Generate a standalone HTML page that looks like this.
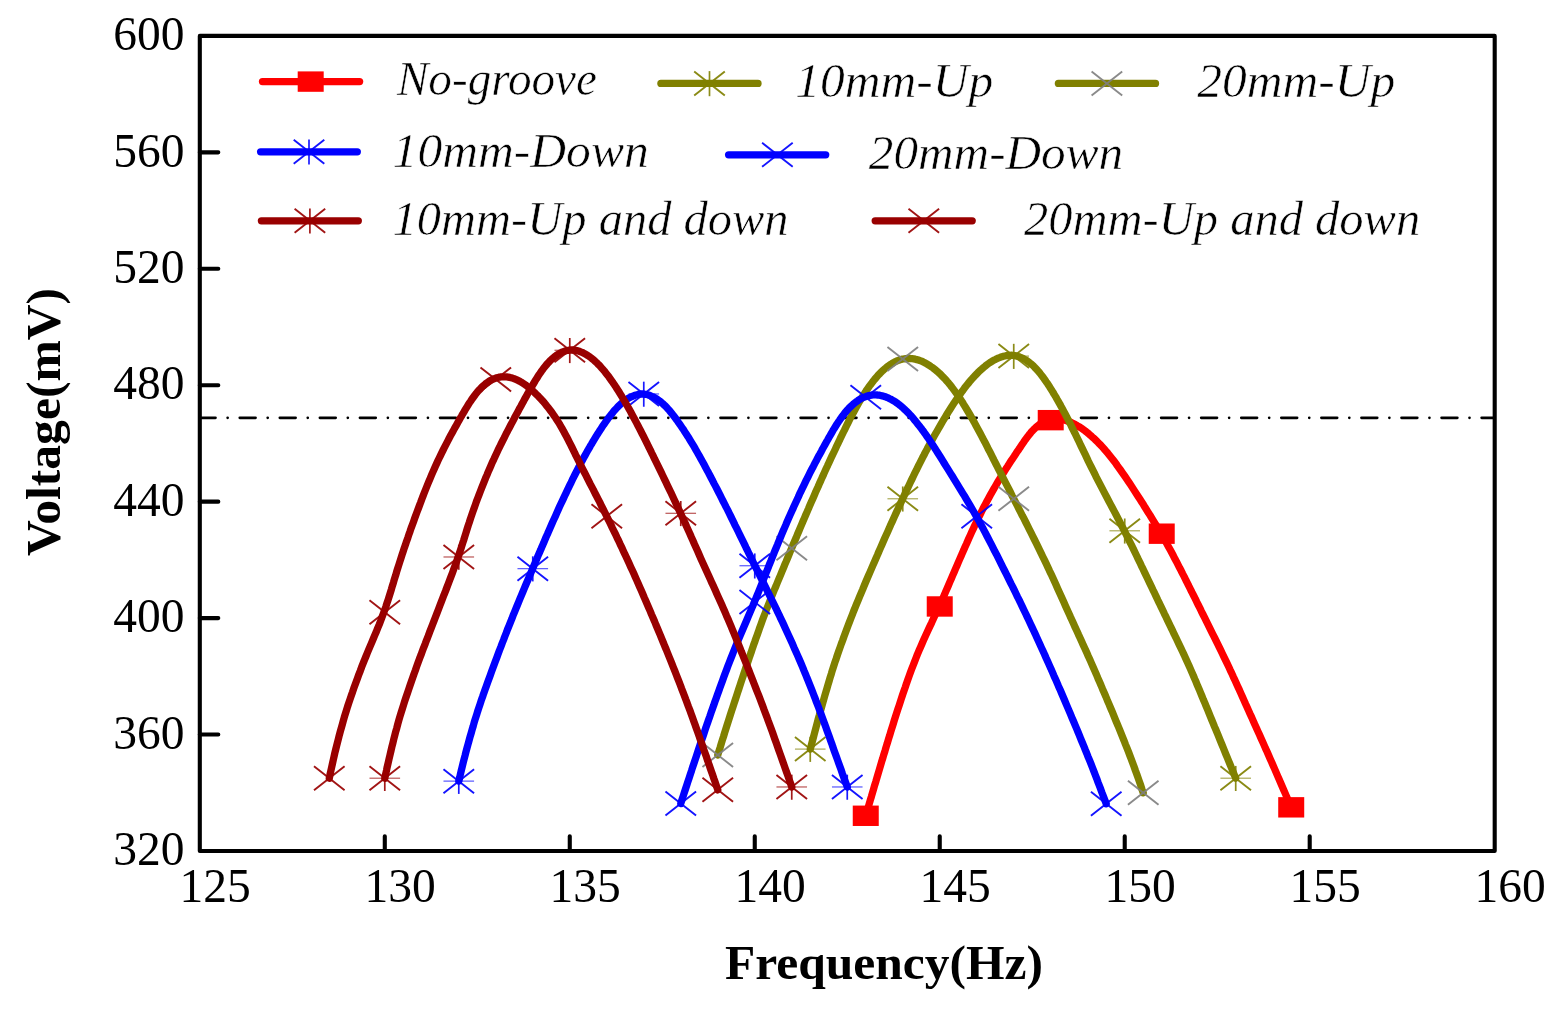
<!DOCTYPE html>
<html lang="en"><head><meta charset="utf-8"><title>Voltage vs Frequency</title>
<style>html,body{margin:0;padding:0;background:#fff}body{width:1561px;height:1010px;overflow:hidden}svg{display:block}text{font-family:"Liberation Serif",serif;fill:#000}.tk{font-size:47.5px}.lg{font-size:48px;font-style:italic;stroke:#fff;stroke-width:0.55px;paint-order:fill stroke}.ti{font-size:48px;font-weight:bold}</style></head><body>
<svg width="1561" height="1010" viewBox="0 0 1561 1010">
<rect width="1561" height="1010" fill="#fff"/>
<path d="M199.70 417.8H1494.70" stroke="#000" stroke-width="2.7" stroke-linecap="round" stroke-dasharray="15.8 12.13 0.01 12.12" fill="none"/>
<g>
<path d="M865.7 815.8L866.9 811.9L868.0 808.1L869.1 804.3L870.2 800.4L871.4 796.6L872.5 792.8L873.6 788.9L874.7 785.1L875.9 781.3L877.0 777.5L878.1 773.7L879.3 769.8L880.4 766.0L881.5 762.2L882.7 758.4L883.8 754.6L885.0 750.8L886.1 747.0L887.3 743.2L888.4 739.4L889.6 735.7L890.7 731.9L891.9 728.1L893.1 724.3L894.2 720.6L895.4 716.8L896.6 713.1L897.8 709.4L899.1 705.6L900.3 701.9L901.5 698.2L902.7 694.5L904.0 690.8L905.3 687.1L906.5 683.4L907.8 679.8L909.1 676.1L910.4 672.5L911.8 668.8L913.2 665.2L914.6 661.6L916.0 658.0L917.4 654.4L918.9 650.8L920.5 647.2L922.0 643.7L923.6 640.1L925.2 636.6L926.8 633.1L928.4 629.5L930.0 626.1L931.7 622.6L933.3 619.1L934.9 615.6L936.5 612.2L938.1 608.8L939.7 605.4L941.2 602.0L942.7 598.6L944.2 595.2L945.6 591.9L947.1 588.5L948.5 585.2L949.9 581.9L951.3 578.7L952.7 575.4L954.1 572.2L955.5 568.9L956.9 565.7L958.2 562.6L959.6 559.4L961.0 556.3L962.3 553.2L963.7 550.1L965.0 547.0L966.4 544.0L967.7 541.0L969.0 538.0L970.4 535.0L971.7 532.1L973.1 529.1L974.4 526.2L975.8 523.4L977.1 520.6L978.5 517.7L979.9 515.0L981.3 512.2L982.6 509.5L984.0 506.8L985.4 504.2L986.8 501.5L988.2 498.9L989.6 496.4L991.0 493.8L992.4 491.4L993.8 488.9L995.2 486.5L996.6 484.1L998.0 481.7L999.4 479.4L1000.8 477.1L1002.2 474.8L1003.6 472.6L1004.9 470.4L1006.3 468.3L1007.7 466.2L1009.0 464.1L1010.3 462.1L1011.6 460.1L1012.9 458.2L1014.2 456.3L1015.4 454.4L1016.6 452.6L1017.8 450.8L1019.0 449.1L1020.1 447.4L1021.2 445.7L1022.3 444.1L1023.4 442.6L1024.4 441.0L1025.5 439.6L1026.5 438.2L1027.5 436.8L1028.6 435.4L1029.6 434.2L1030.6 432.9L1031.6 431.7L1032.7 430.6L1033.7 429.5L1034.8 428.5L1035.8 427.5L1036.9 426.5L1038.0 425.6L1039.1 424.8L1040.2 424.0L1041.3 423.3L1042.5 422.6L1043.6 422.0L1044.8 421.4L1046.0 420.9L1047.2 420.4L1048.4 420.0L1049.7 419.7L1050.9 419.4L1052.2 419.2L1053.4 419.0L1054.7 418.8L1056.0 418.8L1057.3 418.7L1056.5 418.8L1058.1 418.9L1059.6 419.1L1061.2 419.3L1062.8 419.6L1064.3 420.0L1065.9 420.5L1067.5 421.0L1069.1 421.6L1070.7 422.2L1072.2 423.0L1073.8 423.8L1075.4 424.6L1077.0 425.5L1078.6 426.5L1080.3 427.5L1081.9 428.6L1083.5 429.7L1085.1 430.9L1086.7 432.2L1088.4 433.5L1090.0 434.9L1091.6 436.3L1093.2 437.8L1094.9 439.3L1096.5 440.9L1098.1 442.5L1099.7 444.2L1101.4 445.9L1103.0 447.7L1104.6 449.5L1106.2 451.3L1107.8 453.2L1109.4 455.2L1111.0 457.2L1112.6 459.2L1114.2 461.3L1115.8 463.4L1117.3 465.6L1118.9 467.8L1120.5 470.0L1122.1 472.3L1123.7 474.6L1125.3 476.9L1126.9 479.3L1128.5 481.7L1130.2 484.1L1131.8 486.6L1133.4 489.1L1135.0 491.6L1136.7 494.2L1138.3 496.7L1140.0 499.3L1141.7 502.0L1143.4 504.6L1145.0 507.3L1146.7 510.0L1148.4 512.8L1150.2 515.5L1151.9 518.3L1153.6 521.1L1155.3 523.9L1157.0 526.7L1158.7 529.5L1160.4 532.4L1162.1 535.3L1163.7 538.2L1165.4 541.1L1167.0 544.0L1168.6 546.9L1170.2 549.8L1171.8 552.8L1173.4 555.8L1174.9 558.8L1176.5 561.7L1178.1 564.8L1179.6 567.8L1181.2 570.8L1182.7 573.9L1184.3 576.9L1185.8 580.0L1187.4 583.1L1188.9 586.2L1190.5 589.3L1192.0 592.4L1193.6 595.5L1195.2 598.6L1196.7 601.8L1198.3 605.0L1199.9 608.1L1201.4 611.3L1203.0 614.5L1204.6 617.7L1206.2 620.9L1207.8 624.1L1209.4 627.4L1211.0 630.6L1212.6 633.8L1214.3 637.1L1215.9 640.4L1217.5 643.6L1219.1 646.9L1220.7 650.2L1222.3 653.5L1223.9 656.8L1225.5 660.1L1227.1 663.4L1228.7 666.8L1230.2 670.1L1231.8 673.4L1233.3 676.8L1234.9 680.1L1236.4 683.5L1237.9 686.9L1239.5 690.2L1241.0 693.6L1242.5 697.0L1244.0 700.4L1245.5 703.8L1247.1 707.2L1248.6 710.6L1250.1 714.0L1251.7 717.4L1253.2 720.9L1254.7 724.3L1256.3 727.7L1257.8 731.1L1259.4 734.6L1260.9 738.0L1262.5 741.5L1264.0 744.9L1265.5 748.4L1267.1 751.8L1268.6 755.3L1270.1 758.7L1271.7 762.2L1273.2 765.7L1274.7 769.1L1276.2 772.6L1277.7 776.1L1279.2 779.5L1280.7 783.0L1282.2 786.5L1283.7 790.0L1285.2 793.4L1286.7 796.9L1288.2 800.4L1289.7 803.9L1291.2 807.3" stroke="#ff0000" fill="none" stroke-linecap="round" stroke-linejoin="round" stroke-width="7.3"/>
<rect x="852.75" y="805.58" width="26.00" height="20.40" fill="#ff0000"/>
<rect x="926.74" y="596.27" width="26.00" height="20.40" fill="#ff0000"/>
<rect x="1037.73" y="409.96" width="26.00" height="20.40" fill="#ff0000"/>
<rect x="1148.73" y="523.49" width="26.00" height="20.40" fill="#ff0000"/>
<rect x="1278.22" y="797.13" width="26.00" height="20.40" fill="#ff0000"/>
</g>
<g>
<path d="M810.3 749.1L811.3 745.3L812.3 741.5L813.3 737.7L814.3 733.9L815.3 730.1L816.3 726.4L817.3 722.6L818.3 718.8L819.4 715.0L820.4 711.2L821.5 707.4L822.5 703.7L823.6 699.9L824.7 696.1L825.8 692.3L826.9 688.6L828.0 684.8L829.1 681.1L830.2 677.3L831.4 673.6L832.5 669.8L833.7 666.1L834.9 662.4L836.2 658.7L837.4 655.0L838.7 651.3L840.0 647.6L841.3 643.9L842.7 640.2L844.0 636.5L845.4 632.8L846.7 629.2L848.1 625.5L849.5 621.9L850.9 618.3L852.3 614.7L853.7 611.0L855.2 607.4L856.6 603.9L858.1 600.3L859.6 596.7L861.1 593.1L862.6 589.6L864.0 586.1L865.5 582.5L867.0 579.0L868.5 575.5L870.0 572.1L871.5 568.6L873.0 565.1L874.5 561.7L876.0 558.3L877.5 554.9L878.9 551.5L880.4 548.1L881.9 544.7L883.4 541.3L884.8 538.0L886.3 534.7L887.8 531.4L889.3 528.1L890.7 524.8L892.2 521.6L893.7 518.3L895.1 515.1L896.6 511.9L898.1 508.7L899.5 505.6L901.0 502.4L902.4 499.3L903.9 496.2L905.3 493.1L906.7 490.0L908.2 487.0L909.6 484.0L911.0 481.0L912.5 478.0L913.9 475.0L915.3 472.1L916.8 469.2L918.2 466.3L919.7 463.4L921.1 460.6L922.5 457.8L924.0 455.0L925.4 452.2L926.9 449.5L928.3 446.8L929.8 444.1L931.2 441.5L932.6 438.9L934.1 436.3L935.5 433.8L937.0 431.2L938.4 428.7L939.8 426.3L941.2 423.9L942.6 421.5L944.0 419.1L945.4 416.8L946.8 414.5L948.2 412.2L949.6 410.0L951.0 407.8L952.3 405.7L953.7 403.6L955.1 401.5L956.4 399.5L957.8 397.5L959.1 395.5L960.5 393.6L961.8 391.7L963.2 389.9L964.5 388.1L965.9 386.3L967.2 384.6L968.6 383.0L969.9 381.3L971.3 379.8L972.6 378.2L974.0 376.7L975.3 375.3L976.7 373.9L978.0 372.5L979.4 371.2L980.7 370.0L982.1 368.8L983.4 367.6L984.8 366.5L986.1 365.4L987.4 364.4L988.8 363.4L990.1 362.5L991.5 361.7L992.8 360.8L994.1 360.1L995.5 359.4L996.8 358.7L998.1 358.1L999.5 357.6L1000.8 357.1L1002.1 356.7L1003.4 356.3L1004.8 356.0L1006.1 355.7L1007.4 355.5L1008.7 355.4L1010.1 355.3L1011.4 355.2L1011.4 355.3L1012.9 355.4L1014.5 355.6L1016.0 355.9L1017.5 356.3L1018.9 356.7L1020.4 357.3L1021.9 357.9L1023.3 358.6L1024.7 359.4L1026.2 360.2L1027.6 361.2L1029.0 362.2L1030.3 363.3L1031.7 364.4L1033.1 365.7L1034.4 367.0L1035.7 368.4L1037.1 369.8L1038.4 371.3L1039.7 372.9L1041.0 374.6L1042.3 376.3L1043.6 378.0L1044.9 379.9L1046.2 381.8L1047.6 383.7L1048.9 385.7L1050.2 387.8L1051.5 389.9L1052.9 392.1L1054.2 394.4L1055.6 396.6L1056.9 399.0L1058.3 401.4L1059.7 403.8L1061.0 406.3L1062.4 408.8L1063.8 411.4L1065.2 414.0L1066.6 416.7L1068.0 419.4L1069.4 422.2L1070.8 424.9L1072.2 427.8L1073.6 430.6L1075.1 433.5L1076.5 436.5L1077.9 439.4L1079.4 442.4L1080.8 445.5L1082.3 448.5L1083.8 451.6L1085.3 454.7L1086.8 457.9L1088.3 461.1L1089.9 464.3L1091.5 467.5L1093.1 470.7L1094.8 474.0L1096.4 477.3L1098.1 480.6L1099.8 483.9L1101.5 487.2L1103.3 490.6L1105.0 493.9L1106.8 497.3L1108.6 500.7L1110.4 504.1L1112.2 507.5L1114.0 510.9L1115.8 514.3L1117.6 517.7L1119.4 521.2L1121.1 524.6L1122.9 528.0L1124.7 531.5L1126.4 534.9L1128.1 538.3L1129.8 541.8L1131.5 545.2L1133.2 548.6L1134.8 552.0L1136.5 555.5L1138.1 558.9L1139.8 562.3L1141.4 565.8L1143.1 569.2L1144.7 572.6L1146.4 576.1L1148.0 579.5L1149.6 582.9L1151.3 586.4L1152.9 589.8L1154.6 593.2L1156.2 596.6L1157.8 600.1L1159.5 603.5L1161.1 606.9L1162.8 610.4L1164.4 613.8L1166.1 617.2L1167.7 620.6L1169.4 624.1L1171.0 627.5L1172.7 630.9L1174.3 634.4L1176.0 637.8L1177.6 641.2L1179.2 644.6L1180.9 648.1L1182.5 651.5L1184.1 654.9L1185.6 658.3L1187.2 661.8L1188.8 665.2L1190.3 668.6L1191.8 672.1L1193.3 675.5L1194.7 678.9L1196.2 682.3L1197.6 685.8L1199.1 689.2L1200.5 692.6L1201.9 696.0L1203.3 699.5L1204.8 702.9L1206.2 706.3L1207.6 709.7L1209.0 713.2L1210.4 716.6L1211.8 720.0L1213.2 723.4L1214.6 726.9L1216.1 730.3L1217.5 733.7L1218.9 737.1L1220.3 740.6L1221.7 744.0L1223.1 747.4L1224.5 750.8L1225.9 754.3L1227.3 757.7L1228.7 761.1L1230.1 764.5L1231.5 768.0L1232.9 771.4L1234.3 774.8L1235.7 778.2" stroke="#808000" fill="none" stroke-linecap="round" stroke-linejoin="round" stroke-width="7.3"/>
<path d="M794.95 737.11L825.55 761.11M794.95 761.11L825.55 737.11" stroke="#808000" stroke-width="1.9" stroke-opacity="0.92" fill="none"/><path d="M794.95 749.11H825.55" stroke="#808000" stroke-width="1.3" stroke-opacity="0.62" fill="none"/><path d="M810.25 736.81V761.91" stroke="#808000" stroke-width="1.7" stroke-opacity="0.9" fill="none"/>
<path d="M887.45 486.76L918.05 510.76M887.45 510.76L918.05 486.76" stroke="#808000" stroke-width="1.9" stroke-opacity="0.92" fill="none"/><path d="M887.45 498.76H918.05" stroke="#808000" stroke-width="1.3" stroke-opacity="0.62" fill="none"/><path d="M902.75 486.46V511.56" stroke="#808000" stroke-width="1.7" stroke-opacity="0.9" fill="none"/>
<path d="M998.44 344.12L1029.04 368.12M998.44 368.12L1029.04 344.12" stroke="#808000" stroke-width="1.9" stroke-opacity="0.92" fill="none"/><path d="M998.44 356.12H1029.04" stroke="#808000" stroke-width="1.3" stroke-opacity="0.62" fill="none"/><path d="M1013.74 343.82V368.92" stroke="#808000" stroke-width="1.7" stroke-opacity="0.9" fill="none"/>
<path d="M1109.43 518.78L1140.03 542.78M1109.43 542.78L1140.03 518.78" stroke="#808000" stroke-width="1.9" stroke-opacity="0.92" fill="none"/><path d="M1109.43 530.78H1140.03" stroke="#808000" stroke-width="1.3" stroke-opacity="0.62" fill="none"/><path d="M1124.73 518.48V543.58" stroke="#808000" stroke-width="1.7" stroke-opacity="0.9" fill="none"/>
<path d="M1220.42 766.22L1251.02 790.22M1220.42 790.22L1251.02 766.22" stroke="#808000" stroke-width="1.9" stroke-opacity="0.92" fill="none"/><path d="M1220.42 778.22H1251.02" stroke="#808000" stroke-width="1.3" stroke-opacity="0.62" fill="none"/><path d="M1235.72 765.92V791.02" stroke="#808000" stroke-width="1.7" stroke-opacity="0.9" fill="none"/>
</g>
<g>
<path d="M717.8 754.9L718.9 751.3L720.1 747.6L721.2 743.9L722.3 740.3L723.5 736.6L724.6 732.9L725.8 729.2L726.9 725.6L728.1 721.9L729.3 718.2L730.4 714.6L731.6 710.9L732.8 707.3L734.0 703.6L735.2 700.0L736.4 696.3L737.6 692.7L738.8 689.0L740.0 685.4L741.2 681.7L742.4 678.1L743.6 674.5L744.8 670.9L746.0 667.2L747.3 663.6L748.5 660.0L749.7 656.4L751.0 652.8L752.2 649.2L753.4 645.6L754.7 642.0L755.9 638.4L757.2 634.9L758.5 631.3L759.7 627.7L761.0 624.2L762.3 620.6L763.6 617.1L765.0 613.5L766.3 610.0L767.7 606.5L769.1 603.0L770.5 599.5L771.9 596.0L773.3 592.5L774.7 589.0L776.2 585.5L777.6 582.0L779.0 578.6L780.5 575.1L781.9 571.7L783.3 568.3L784.7 564.8L786.2 561.4L787.6 558.0L789.0 554.6L790.4 551.2L791.8 547.9L793.2 544.5L794.6 541.2L796.1 537.8L797.4 534.5L798.8 531.2L800.2 527.9L801.6 524.6L803.0 521.3L804.4 518.1L805.8 514.8L807.2 511.6L808.6 508.4L809.9 505.2L811.3 502.0L812.7 498.9L814.1 495.7L815.4 492.6L816.8 489.5L818.2 486.5L819.5 483.4L820.9 480.4L822.2 477.4L823.6 474.4L824.9 471.4L826.2 468.5L827.6 465.6L828.9 462.7L830.2 459.9L831.5 457.0L832.9 454.2L834.2 451.5L835.5 448.7L836.7 446.0L838.0 443.3L839.3 440.7L840.5 438.0L841.8 435.4L843.0 432.9L844.3 430.4L845.5 427.9L846.7 425.4L847.9 423.0L849.1 420.6L850.3 418.2L851.5 415.9L852.8 413.6L854.0 411.4L855.2 409.2L856.4 407.0L857.6 404.9L858.8 402.8L860.0 400.7L861.2 398.7L862.4 396.8L863.6 394.8L864.8 393.0L866.0 391.1L867.2 389.3L868.4 387.6L869.6 385.9L870.9 384.2L872.1 382.6L873.3 381.0L874.5 379.5L875.8 378.0L877.0 376.6L878.2 375.2L879.5 373.9L880.7 372.6L881.9 371.4L883.2 370.2L884.4 369.1L885.7 368.1L886.9 367.0L888.2 366.1L889.4 365.2L890.7 364.3L892.0 363.5L893.2 362.8L894.5 362.1L895.7 361.5L897.0 360.9L898.3 360.4L899.5 360.0L900.8 359.6L902.1 359.2L903.4 359.0L904.6 358.8L905.9 358.6L907.2 358.5L908.5 358.5L910.5 358.5L912.1 358.7L913.7 358.9L915.2 359.2L916.8 359.6L918.4 360.0L920.0 360.6L921.6 361.2L923.2 361.9L924.8 362.7L926.4 363.6L928.0 364.6L929.6 365.6L931.2 366.7L932.9 367.8L934.5 369.1L936.1 370.4L937.7 371.8L939.3 373.2L940.8 374.7L942.4 376.3L944.0 377.9L945.6 379.6L947.1 381.4L948.7 383.2L950.2 385.1L951.8 387.1L953.3 389.1L954.8 391.1L956.3 393.2L957.8 395.4L959.4 397.6L960.9 399.9L962.4 402.2L963.8 404.6L965.3 407.0L966.8 409.5L968.3 412.0L969.8 414.5L971.3 417.1L972.8 419.8L974.3 422.4L975.8 425.2L977.3 427.9L978.8 430.7L980.3 433.5L981.8 436.4L983.3 439.3L984.9 442.2L986.4 445.2L987.9 448.2L989.5 451.2L991.0 454.2L992.6 457.3L994.1 460.4L995.7 463.5L997.3 466.7L998.9 469.8L1000.6 473.0L1002.2 476.2L1003.8 479.4L1005.5 482.7L1007.2 485.9L1008.9 489.2L1010.6 492.5L1012.2 495.8L1013.9 499.1L1015.6 502.4L1017.3 505.7L1019.0 509.1L1020.7 512.4L1022.4 515.8L1024.2 519.1L1025.9 522.5L1027.6 525.9L1029.3 529.3L1031.0 532.7L1032.7 536.1L1034.4 539.5L1036.1 542.9L1037.8 546.4L1039.5 549.8L1041.2 553.3L1042.8 556.7L1044.5 560.2L1046.2 563.7L1047.8 567.1L1049.4 570.6L1051.1 574.1L1052.7 577.6L1054.3 581.1L1055.9 584.6L1057.5 588.2L1059.1 591.7L1060.7 595.2L1062.3 598.8L1063.9 602.3L1065.5 605.9L1067.1 609.5L1068.7 613.0L1070.3 616.6L1072.0 620.2L1073.6 623.8L1075.2 627.4L1076.9 631.0L1078.5 634.6L1080.2 638.2L1081.8 641.8L1083.4 645.4L1085.1 649.0L1086.7 652.6L1088.3 656.3L1090.0 659.9L1091.6 663.6L1093.2 667.2L1094.8 670.9L1096.4 674.5L1097.9 678.2L1099.5 681.8L1101.1 685.5L1102.6 689.2L1104.2 692.8L1105.8 696.5L1107.3 700.2L1108.9 703.9L1110.4 707.5L1112.0 711.2L1113.5 714.9L1115.0 718.6L1116.5 722.3L1118.1 726.0L1119.6 729.7L1121.1 733.4L1122.6 737.1L1124.1 740.8L1125.5 744.5L1127.0 748.2L1128.5 751.9L1129.9 755.6L1131.3 759.3L1132.7 763.1L1134.1 766.8L1135.4 770.5L1136.8 774.2L1138.1 777.9L1139.4 781.6L1140.7 785.3L1141.9 789.1L1143.2 792.8" stroke="#808000" fill="none" stroke-linecap="round" stroke-linejoin="round" stroke-width="7.3"/>
<path d="M702.46 742.93L733.06 766.93M702.46 766.93L733.06 742.93" stroke="#808080" stroke-width="1.9" stroke-opacity="0.92" fill="none"/>
<path d="M776.45 536.25L807.05 560.25M776.45 560.25L807.05 536.25" stroke="#808080" stroke-width="1.9" stroke-opacity="0.92" fill="none"/>
<path d="M887.45 347.03L918.05 371.03M887.45 371.03L918.05 347.03" stroke="#808080" stroke-width="1.9" stroke-opacity="0.92" fill="none"/>
<path d="M998.44 486.76L1029.04 510.76M998.44 510.76L1029.04 486.76" stroke="#808080" stroke-width="1.9" stroke-opacity="0.92" fill="none"/>
<path d="M1127.93 780.78L1158.53 804.78M1127.93 804.78L1158.53 780.78" stroke="#808080" stroke-width="1.9" stroke-opacity="0.92" fill="none"/>
</g>
<g>
<path d="M458.8 781.1L459.7 777.5L460.5 773.8L461.4 770.1L462.3 766.4L463.2 762.7L464.1 759.1L465.1 755.4L466.0 751.7L467.0 748.1L468.0 744.4L469.0 740.7L470.0 737.1L471.1 733.4L472.1 729.8L473.2 726.1L474.2 722.4L475.3 718.8L476.5 715.2L477.6 711.5L478.8 707.9L480.0 704.3L481.2 700.6L482.5 697.0L483.7 693.4L485.0 689.8L486.3 686.2L487.6 682.6L488.9 679.0L490.2 675.4L491.5 671.8L492.8 668.3L494.1 664.7L495.4 661.2L496.8 657.6L498.1 654.1L499.4 650.5L500.8 647.0L502.1 643.5L503.5 640.0L504.8 636.5L506.2 633.0L507.5 629.5L508.9 626.1L510.3 622.6L511.7 619.2L513.0 615.7L514.4 612.3L515.8 608.9L517.2 605.5L518.6 602.1L520.0 598.7L521.4 595.3L522.8 592.0L524.2 588.6L525.6 585.3L527.0 582.0L528.4 578.7L529.8 575.4L531.2 572.1L532.6 568.8L533.9 565.6L535.3 562.4L536.7 559.1L538.0 555.9L539.4 552.7L540.8 549.6L542.1 546.4L543.5 543.3L544.8 540.1L546.1 537.0L547.5 534.0L548.8 530.9L550.2 527.8L551.5 524.8L552.8 521.8L554.2 518.8L555.5 515.9L556.8 512.9L558.1 510.0L559.4 507.1L560.7 504.3L562.1 501.4L563.4 498.6L564.7 495.8L566.0 493.1L567.3 490.3L568.6 487.6L569.9 484.9L571.2 482.3L572.4 479.7L573.7 477.1L575.0 474.5L576.3 472.0L577.6 469.5L578.9 467.0L580.1 464.5L581.4 462.1L582.7 459.7L583.9 457.4L585.2 455.1L586.5 452.8L587.7 450.6L589.0 448.4L590.2 446.2L591.5 444.1L592.7 442.0L594.0 439.9L595.2 437.9L596.4 435.9L597.6 434.0L598.8 432.1L600.0 430.2L601.2 428.4L602.4 426.6L603.6 424.8L604.8 423.1L605.9 421.5L607.1 419.9L608.2 418.3L609.4 416.8L610.5 415.3L611.7 413.9L612.8 412.5L613.9 411.1L615.1 409.8L616.2 408.6L617.3 407.4L618.5 406.2L619.6 405.1L620.7 404.0L621.9 403.0L623.0 402.1L624.2 401.2L625.4 400.3L626.5 399.5L627.7 398.7L628.9 398.0L630.0 397.4L631.2 396.8L632.4 396.3L633.6 395.8L634.8 395.3L636.0 395.0L637.2 394.7L638.4 394.4L639.7 394.2L640.9 394.0L642.1 394.0L643.3 393.9L642.3 394.0L643.7 394.1L645.1 394.3L646.4 394.5L647.8 394.8L649.1 395.2L650.4 395.7L651.7 396.3L653.1 396.9L654.4 397.5L655.7 398.3L656.9 399.1L658.2 400.0L659.5 400.9L660.8 401.9L662.0 403.0L663.3 404.1L664.5 405.3L665.8 406.5L667.0 407.8L668.2 409.2L669.5 410.6L670.7 412.1L671.9 413.6L673.2 415.2L674.4 416.8L675.7 418.5L677.0 420.3L678.2 422.1L679.5 423.9L680.8 425.8L682.1 427.7L683.5 429.7L684.8 431.8L686.1 433.8L687.5 436.0L688.9 438.1L690.2 440.3L691.6 442.6L693.0 444.9L694.4 447.2L695.7 449.6L697.1 452.0L698.5 454.5L699.9 456.9L701.3 459.5L702.7 462.0L704.1 464.6L705.5 467.2L706.9 469.9L708.4 472.6L709.8 475.3L711.2 478.0L712.7 480.8L714.1 483.6L715.6 486.4L717.1 489.3L718.6 492.2L720.1 495.1L721.5 498.0L723.0 501.0L724.5 503.9L726.0 506.9L727.6 509.9L729.1 513.0L730.6 516.0L732.1 519.1L733.6 522.2L735.1 525.3L736.7 528.4L738.2 531.5L739.7 534.6L741.3 537.8L742.8 540.9L744.4 544.1L745.9 547.3L747.5 550.5L749.0 553.7L750.6 556.9L752.1 560.1L753.7 563.3L755.3 566.5L756.9 569.7L758.5 573.0L760.1 576.2L761.7 579.4L763.3 582.7L764.9 585.9L766.5 589.1L768.1 592.4L769.7 595.6L771.3 598.9L772.9 602.1L774.5 605.4L776.1 608.6L777.6 611.9L779.2 615.1L780.7 618.4L782.3 621.7L783.8 624.9L785.3 628.2L786.8 631.5L788.3 634.7L789.8 638.0L791.3 641.3L792.8 644.6L794.2 647.9L795.7 651.2L797.1 654.4L798.6 657.7L800.0 661.0L801.4 664.3L802.8 667.6L804.1 670.9L805.5 674.2L806.8 677.5L808.2 680.8L809.5 684.1L810.8 687.4L812.1 690.7L813.4 694.0L814.7 697.3L815.9 700.6L817.2 703.9L818.5 707.3L819.7 710.6L821.0 713.9L822.2 717.2L823.4 720.5L824.6 723.8L825.8 727.1L827.0 730.5L828.2 733.8L829.4 737.1L830.6 740.4L831.8 743.7L832.9 747.1L834.1 750.4L835.3 753.7L836.5 757.0L837.7 760.4L838.9 763.7L840.1 767.0L841.3 770.3L842.4 773.7L843.6 777.0L844.8 780.3L846.0 783.6L847.3 787.0" stroke="#0000ff" fill="none" stroke-linecap="round" stroke-linejoin="round" stroke-width="7.3"/>
<path d="M443.48 769.13L474.08 793.13M443.48 793.13L474.08 769.13" stroke="#0000ff" stroke-width="1.9" stroke-opacity="0.92" fill="none"/><path d="M443.48 781.13H474.08" stroke="#0000ff" stroke-width="1.3" stroke-opacity="0.62" fill="none"/><path d="M458.78 768.83V793.93" stroke="#0000ff" stroke-width="1.7" stroke-opacity="0.9" fill="none"/>
<path d="M517.47 556.63L548.07 580.63M517.47 580.63L548.07 556.63" stroke="#0000ff" stroke-width="1.9" stroke-opacity="0.92" fill="none"/><path d="M517.47 568.63H548.07" stroke="#0000ff" stroke-width="1.3" stroke-opacity="0.62" fill="none"/><path d="M532.77 556.33V581.43" stroke="#0000ff" stroke-width="1.7" stroke-opacity="0.9" fill="none"/>
<path d="M628.47 381.96L659.07 405.96M628.47 405.96L659.07 381.96" stroke="#0000ff" stroke-width="1.9" stroke-opacity="0.92" fill="none"/><path d="M628.47 393.96H659.07" stroke="#0000ff" stroke-width="1.3" stroke-opacity="0.62" fill="none"/><path d="M643.77 381.66V406.76" stroke="#0000ff" stroke-width="1.7" stroke-opacity="0.9" fill="none"/>
<path d="M739.46 553.72L770.06 577.72M739.46 577.72L770.06 553.72" stroke="#0000ff" stroke-width="1.9" stroke-opacity="0.92" fill="none"/><path d="M739.46 565.72H770.06" stroke="#0000ff" stroke-width="1.3" stroke-opacity="0.62" fill="none"/><path d="M754.76 553.42V578.51" stroke="#0000ff" stroke-width="1.7" stroke-opacity="0.9" fill="none"/>
<path d="M831.95 774.96L862.55 798.96M831.95 798.96L862.55 774.96" stroke="#0000ff" stroke-width="1.9" stroke-opacity="0.92" fill="none"/><path d="M831.95 786.96H862.55" stroke="#0000ff" stroke-width="1.3" stroke-opacity="0.62" fill="none"/><path d="M847.25 774.66V799.76" stroke="#0000ff" stroke-width="1.7" stroke-opacity="0.9" fill="none"/>
</g>
<g>
<path d="M680.8 803.5L681.9 799.9L683.1 796.3L684.3 792.6L685.5 789.0L686.7 785.3L687.9 781.7L689.1 778.1L690.3 774.4L691.5 770.8L692.6 767.2L693.9 763.5L695.1 759.9L696.3 756.3L697.5 752.6L698.7 749.0L699.9 745.4L701.1 741.7L702.4 738.1L703.6 734.5L704.8 730.9L706.0 727.2L707.3 723.6L708.5 720.0L709.8 716.4L711.0 712.8L712.3 709.2L713.6 705.6L714.8 702.0L716.1 698.4L717.4 694.8L718.7 691.2L720.0 687.6L721.3 684.0L722.6 680.4L723.9 676.8L725.2 673.2L726.6 669.6L727.9 666.1L729.3 662.5L730.7 658.9L732.1 655.4L733.5 651.8L734.9 648.3L736.4 644.7L737.8 641.2L739.3 637.6L740.8 634.1L742.3 630.5L743.8 627.0L745.3 623.5L746.8 620.0L748.3 616.4L749.8 612.9L751.3 609.4L752.8 605.9L754.2 602.4L755.7 598.9L757.1 595.5L758.5 592.0L759.9 588.5L761.3 585.0L762.7 581.6L764.0 578.1L765.4 574.7L766.7 571.3L768.1 567.9L769.4 564.5L770.8 561.1L772.1 557.7L773.5 554.4L774.8 551.0L776.2 547.7L777.6 544.4L778.9 541.1L780.3 537.8L781.6 534.6L783.0 531.3L784.4 528.1L785.8 524.9L787.1 521.7L788.5 518.6L789.9 515.4L791.3 512.3L792.7 509.3L794.0 506.2L795.4 503.2L796.8 500.2L798.2 497.2L799.5 494.2L800.9 491.3L802.3 488.4L803.7 485.6L805.1 482.7L806.4 479.9L807.8 477.2L809.2 474.4L810.5 471.7L811.9 469.0L813.3 466.4L814.6 463.8L816.0 461.3L817.3 458.7L818.6 456.2L820.0 453.8L821.3 451.4L822.5 449.0L823.8 446.7L825.1 444.4L826.3 442.2L827.6 440.0L828.8 437.8L830.0 435.7L831.2 433.6L832.4 431.6L833.5 429.6L834.7 427.7L835.9 425.8L837.0 424.0L838.2 422.2L839.4 420.5L840.5 418.8L841.7 417.1L842.9 415.6L844.1 414.0L845.2 412.5L846.4 411.1L847.6 409.8L848.8 408.4L850.0 407.2L851.3 406.0L852.5 404.9L853.7 403.8L855.0 402.7L856.2 401.8L857.5 400.9L858.7 400.0L860.0 399.3L861.2 398.5L862.5 397.9L863.8 397.3L865.1 396.8L866.4 396.3L867.7 395.9L869.0 395.6L870.3 395.3L871.6 395.1L872.9 394.9L874.2 394.8L875.5 394.8L876.0 394.9L877.5 395.0L879.1 395.2L880.6 395.5L882.1 395.8L883.6 396.2L885.2 396.7L886.7 397.3L888.2 397.9L889.7 398.7L891.2 399.4L892.7 400.3L894.2 401.2L895.8 402.2L897.3 403.3L898.8 404.4L900.3 405.6L901.7 406.8L903.2 408.1L904.7 409.5L906.2 410.9L907.7 412.4L909.2 413.9L910.7 415.5L912.2 417.2L913.7 418.9L915.1 420.7L916.6 422.5L918.1 424.4L919.6 426.3L921.1 428.2L922.6 430.3L924.1 432.3L925.6 434.4L927.1 436.6L928.6 438.8L930.1 441.0L931.6 443.3L933.1 445.6L934.7 448.0L936.2 450.4L937.7 452.8L939.3 455.3L940.9 457.8L942.5 460.4L944.1 463.0L945.7 465.6L947.3 468.2L949.0 470.9L950.7 473.6L952.4 476.3L954.1 479.1L955.8 481.9L957.5 484.7L959.3 487.6L961.0 490.4L962.8 493.3L964.6 496.2L966.3 499.1L968.1 502.1L969.9 505.1L971.6 508.0L973.3 511.0L975.1 514.1L976.8 517.1L978.5 520.1L980.1 523.2L981.8 526.3L983.5 529.3L985.1 532.4L986.7 535.5L988.4 538.7L990.0 541.8L991.6 544.9L993.2 548.1L994.8 551.3L996.5 554.4L998.1 557.6L999.7 560.8L1001.3 564.1L1002.9 567.3L1004.5 570.5L1006.2 573.8L1007.8 577.0L1009.4 580.3L1011.0 583.6L1012.7 586.9L1014.3 590.2L1015.9 593.5L1017.5 596.8L1019.2 600.1L1020.8 603.5L1022.4 606.8L1024.0 610.2L1025.6 613.5L1027.2 616.9L1028.8 620.3L1030.4 623.7L1032.0 627.1L1033.6 630.5L1035.2 633.9L1036.7 637.3L1038.3 640.7L1039.9 644.2L1041.4 647.6L1043.0 651.1L1044.6 654.5L1046.1 658.0L1047.7 661.5L1049.2 664.9L1050.8 668.4L1052.3 671.9L1053.8 675.4L1055.4 678.9L1056.9 682.4L1058.4 685.9L1060.0 689.4L1061.5 693.0L1063.0 696.5L1064.5 700.0L1066.0 703.6L1067.5 707.1L1069.0 710.6L1070.5 714.2L1072.0 717.8L1073.5 721.3L1075.0 724.9L1076.5 728.4L1078.0 732.0L1079.5 735.6L1080.9 739.2L1082.4 742.7L1083.9 746.3L1085.3 749.9L1086.8 753.5L1088.2 757.1L1089.7 760.7L1091.1 764.2L1092.5 767.8L1093.9 771.4L1095.3 775.0L1096.7 778.6L1098.0 782.2L1099.4 785.8L1100.8 789.4L1102.1 793.0L1103.5 796.6L1104.9 800.2L1106.2 803.8" stroke="#0000ff" fill="none" stroke-linecap="round" stroke-linejoin="round" stroke-width="7.3"/>
<path d="M665.46 791.55L696.06 815.55M665.46 815.55L696.06 791.55" stroke="#0000ff" stroke-width="1.9" stroke-opacity="0.92" fill="none"/>
<path d="M739.46 590.10L770.06 614.10M739.46 614.10L770.06 590.10" stroke="#0000ff" stroke-width="1.9" stroke-opacity="0.92" fill="none"/>
<path d="M850.45 385.16L881.05 409.16M850.45 409.16L881.05 385.16" stroke="#0000ff" stroke-width="1.9" stroke-opacity="0.92" fill="none"/>
<path d="M961.44 504.23L992.04 528.23M961.44 528.23L992.04 504.23" stroke="#0000ff" stroke-width="1.9" stroke-opacity="0.92" fill="none"/>
<path d="M1090.93 791.84L1121.53 815.84M1090.93 815.84L1121.53 791.84" stroke="#0000ff" stroke-width="1.9" stroke-opacity="0.92" fill="none"/>
</g>
<g>
<path d="M384.8 778.2L385.6 774.3L386.5 770.5L387.3 766.6L388.2 762.7L389.1 758.8L390.0 755.0L390.9 751.1L391.8 747.2L392.8 743.3L393.7 739.5L394.7 735.6L395.7 731.7L396.8 727.9L397.8 724.0L398.9 720.1L400.0 716.3L401.2 712.4L402.4 708.6L403.6 704.7L404.8 700.9L406.1 697.0L407.4 693.2L408.7 689.3L410.0 685.5L411.3 681.7L412.7 677.8L414.0 674.0L415.4 670.2L416.7 666.4L418.1 662.5L419.5 658.7L421.0 654.9L422.4 651.1L423.8 647.3L425.3 643.6L426.7 639.8L428.2 636.0L429.6 632.2L431.1 628.4L432.5 624.7L434.0 620.9L435.4 617.2L436.9 613.4L438.3 609.7L439.7 606.0L441.2 602.2L442.6 598.5L444.0 594.8L445.5 591.1L446.9 587.4L448.3 583.7L449.7 580.0L451.1 576.4L452.5 572.7L453.8 569.1L455.2 565.4L456.5 561.8L457.7 558.1L459.0 554.5L460.2 550.9L461.4 547.3L462.5 543.7L463.7 540.1L464.8 536.5L465.9 533.0L467.0 529.4L468.1 525.9L469.3 522.4L470.4 518.9L471.6 515.4L472.8 511.9L474.0 508.5L475.2 505.1L476.4 501.6L477.7 498.2L479.0 494.9L480.3 491.5L481.6 488.2L482.9 484.9L484.2 481.6L485.5 478.3L486.9 475.1L488.2 471.9L489.6 468.7L491.0 465.5L492.3 462.4L493.8 459.3L495.2 456.2L496.6 453.2L498.0 450.2L499.5 447.2L500.9 444.2L502.4 441.3L503.9 438.4L505.3 435.5L506.7 432.7L508.2 429.9L509.6 427.2L511.0 424.5L512.5 421.8L513.9 419.1L515.2 416.5L516.6 414.0L518.0 411.4L519.3 408.9L520.7 406.5L522.0 404.1L523.3 401.7L524.5 399.4L525.8 397.1L527.0 394.9L528.3 392.7L529.5 390.6L530.7 388.5L531.9 386.5L533.0 384.5L534.2 382.5L535.3 380.6L536.5 378.8L537.6 377.0L538.7 375.2L539.9 373.5L541.0 371.9L542.1 370.3L543.2 368.8L544.4 367.3L545.5 365.9L546.7 364.5L547.8 363.2L549.0 361.9L550.1 360.7L551.3 359.6L552.5 358.5L553.7 357.5L554.9 356.5L556.1 355.6L557.3 354.8L558.5 354.0L559.7 353.3L560.9 352.7L562.1 352.1L563.4 351.6L564.6 351.2L565.9 350.8L567.1 350.5L568.4 350.3L569.6 350.1L570.9 350.0L572.2 349.9L572.6 350.0L574.0 350.1L575.5 350.3L576.9 350.6L578.4 351.0L579.9 351.5L581.3 352.1L582.8 352.7L584.2 353.4L585.7 354.2L587.1 355.1L588.5 356.0L590.0 357.0L591.4 358.1L592.9 359.3L594.3 360.5L595.7 361.8L597.2 363.2L598.6 364.7L600.1 366.2L601.5 367.8L602.9 369.4L604.4 371.1L605.8 372.9L607.2 374.7L608.7 376.6L610.1 378.6L611.5 380.6L613.0 382.7L614.4 384.8L615.9 387.0L617.3 389.2L618.8 391.5L620.2 393.8L621.7 396.2L623.1 398.7L624.6 401.1L626.0 403.7L627.5 406.3L629.0 408.9L630.5 411.5L631.9 414.2L633.4 417.0L634.9 419.8L636.4 422.6L637.9 425.5L639.4 428.4L640.9 431.3L642.4 434.3L644.0 437.3L645.5 440.3L647.0 443.4L648.5 446.5L650.1 449.6L651.6 452.8L653.2 455.9L654.7 459.2L656.3 462.4L657.9 465.6L659.5 468.9L661.1 472.2L662.7 475.5L664.3 478.9L665.9 482.2L667.5 485.6L669.1 488.9L670.8 492.3L672.4 495.8L674.0 499.2L675.6 502.6L677.2 506.0L678.8 509.5L680.4 512.9L682.0 516.4L683.6 519.9L685.2 523.3L686.7 526.8L688.3 530.3L689.9 533.8L691.4 537.3L693.0 540.8L694.5 544.3L696.1 547.8L697.7 551.3L699.2 554.8L700.8 558.4L702.4 561.9L704.0 565.4L705.6 569.0L707.2 572.5L708.8 576.1L710.4 579.6L712.0 583.2L713.7 586.7L715.3 590.3L716.9 593.9L718.5 597.4L720.1 601.0L721.7 604.6L723.3 608.2L724.9 611.8L726.4 615.4L728.0 619.0L729.5 622.6L731.0 626.2L732.5 629.8L734.0 633.4L735.5 637.0L736.9 640.6L738.4 644.2L739.9 647.8L741.3 651.5L742.8 655.1L744.2 658.7L745.7 662.4L747.1 666.0L748.6 669.6L750.0 673.3L751.4 676.9L752.9 680.6L754.3 684.2L755.7 687.9L757.1 691.5L758.6 695.2L760.0 698.8L761.4 702.5L762.8 706.1L764.1 709.8L765.5 713.5L766.9 717.1L768.2 720.8L769.6 724.5L770.9 728.1L772.3 731.8L773.6 735.5L774.9 739.2L776.2 742.8L777.5 746.5L778.8 750.2L780.1 753.9L781.4 757.5L782.7 761.2L784.0 764.9L785.3 768.6L786.6 772.2L787.9 775.9L789.2 779.6L790.5 783.3L791.8 787.0" stroke="#990000" fill="none" stroke-linecap="round" stroke-linejoin="round" stroke-width="7.3"/>
<path d="M369.49 766.22L400.09 790.22M369.49 790.22L400.09 766.22" stroke="#990000" stroke-width="1.9" stroke-opacity="0.92" fill="none"/><path d="M369.49 778.22H400.09" stroke="#990000" stroke-width="1.3" stroke-opacity="0.62" fill="none"/><path d="M384.79 765.92V791.02" stroke="#990000" stroke-width="1.7" stroke-opacity="0.9" fill="none"/>
<path d="M443.48 544.98L474.08 568.98M443.48 568.98L474.08 544.98" stroke="#990000" stroke-width="1.9" stroke-opacity="0.92" fill="none"/><path d="M443.48 556.98H474.08" stroke="#990000" stroke-width="1.3" stroke-opacity="0.62" fill="none"/><path d="M458.78 544.68V569.78" stroke="#990000" stroke-width="1.7" stroke-opacity="0.9" fill="none"/>
<path d="M554.47 338.30L585.07 362.30M554.47 362.30L585.07 338.30" stroke="#990000" stroke-width="1.9" stroke-opacity="0.92" fill="none"/><path d="M554.47 350.30H585.07" stroke="#990000" stroke-width="1.3" stroke-opacity="0.62" fill="none"/><path d="M569.77 338.00V363.10" stroke="#990000" stroke-width="1.7" stroke-opacity="0.9" fill="none"/>
<path d="M665.46 501.32L696.06 525.32M665.46 525.32L696.06 501.32" stroke="#990000" stroke-width="1.9" stroke-opacity="0.92" fill="none"/><path d="M665.46 513.32H696.06" stroke="#990000" stroke-width="1.3" stroke-opacity="0.62" fill="none"/><path d="M680.76 501.02V526.12" stroke="#990000" stroke-width="1.7" stroke-opacity="0.9" fill="none"/>
<path d="M776.45 774.96L807.05 798.96M776.45 798.96L807.05 774.96" stroke="#990000" stroke-width="1.9" stroke-opacity="0.92" fill="none"/><path d="M776.45 786.96H807.05" stroke="#990000" stroke-width="1.3" stroke-opacity="0.62" fill="none"/><path d="M791.75 774.66V799.76" stroke="#990000" stroke-width="1.7" stroke-opacity="0.9" fill="none"/>
</g>
<g>
<path d="M329.3 778.2L330.0 774.6L330.8 771.0L331.6 767.5L332.4 763.9L333.2 760.3L334.0 756.7L334.8 753.1L335.7 749.5L336.6 745.9L337.5 742.3L338.4 738.8L339.3 735.2L340.3 731.6L341.3 728.0L342.3 724.4L343.3 720.8L344.3 717.2L345.4 713.7L346.5 710.1L347.6 706.5L348.8 702.9L350.0 699.4L351.2 695.8L352.5 692.2L353.7 688.6L355.0 685.1L356.3 681.5L357.6 677.9L358.9 674.3L360.3 670.8L361.6 667.2L363.0 663.7L364.4 660.1L365.9 656.5L367.3 653.0L368.8 649.4L370.3 645.9L371.8 642.3L373.3 638.8L374.8 635.2L376.3 631.7L377.7 628.1L379.2 624.6L380.6 621.0L381.9 617.5L383.2 614.0L384.5 610.4L385.8 606.9L386.9 603.4L388.1 599.8L389.2 596.3L390.3 592.8L391.4 589.3L392.4 585.8L393.5 582.3L394.5 578.8L395.6 575.4L396.6 571.9L397.7 568.4L398.8 565.0L399.9 561.5L401.0 558.1L402.1 554.7L403.2 551.3L404.3 547.9L405.5 544.6L406.6 541.2L407.8 537.9L408.9 534.5L410.1 531.2L411.2 527.9L412.4 524.7L413.6 521.4L414.7 518.2L415.9 514.9L417.1 511.8L418.3 508.6L419.5 505.4L420.7 502.3L421.8 499.2L423.0 496.1L424.2 493.0L425.4 490.0L426.6 487.0L427.8 484.0L429.0 481.1L430.3 478.1L431.5 475.2L432.7 472.4L434.0 469.5L435.2 466.7L436.5 463.9L437.7 461.2L439.0 458.5L440.3 455.8L441.6 453.1L442.9 450.5L444.2 447.9L445.5 445.4L446.8 442.9L448.1 440.4L449.3 438.0L450.6 435.6L451.9 433.2L453.2 430.9L454.4 428.6L455.7 426.4L456.9 424.2L458.1 422.0L459.3 419.9L460.5 417.8L461.7 415.8L462.8 413.8L464.0 411.8L465.1 409.9L466.2 408.1L467.3 406.3L468.4 404.5L469.5 402.8L470.6 401.2L471.7 399.5L472.8 398.0L473.9 396.5L475.0 395.0L476.1 393.6L477.2 392.2L478.3 390.9L479.5 389.7L480.6 388.5L481.7 387.3L482.8 386.3L484.0 385.2L485.1 384.3L486.2 383.3L487.4 382.5L488.5 381.7L489.7 380.9L490.8 380.3L492.0 379.6L493.2 379.1L494.3 378.6L495.5 378.2L496.7 377.8L497.9 377.5L499.0 377.2L500.2 377.0L501.4 376.9L502.6 376.8L503.8 376.8L505.3 376.8L506.7 376.9L508.1 377.1L509.6 377.4L511.0 377.7L512.4 378.1L513.9 378.6L515.3 379.2L516.8 379.8L518.2 380.5L519.7 381.3L521.2 382.1L522.6 383.0L524.1 384.0L525.6 385.0L527.1 386.1L528.6 387.3L530.1 388.5L531.6 389.8L533.1 391.2L534.6 392.6L536.1 394.1L537.7 395.6L539.2 397.2L540.7 398.8L542.3 400.5L543.8 402.2L545.3 404.0L546.8 405.9L548.3 407.8L549.8 409.7L551.3 411.7L552.8 413.8L554.2 415.9L555.7 418.0L557.1 420.2L558.5 422.4L559.9 424.7L561.2 427.0L562.6 429.4L563.9 431.8L565.2 434.2L566.6 436.7L567.9 439.2L569.2 441.8L570.5 444.4L571.8 447.0L573.1 449.7L574.4 452.3L575.7 455.1L577.1 457.8L578.5 460.6L579.9 463.4L581.3 466.3L582.7 469.1L584.2 472.0L585.7 474.9L587.2 477.9L588.7 480.9L590.2 483.9L591.8 486.9L593.4 489.9L594.9 493.0L596.5 496.0L598.1 499.1L599.7 502.2L601.2 505.3L602.8 508.5L604.4 511.6L606.0 514.8L607.5 518.0L609.1 521.2L610.7 524.4L612.2 527.6L613.8 530.8L615.4 534.0L616.9 537.3L618.5 540.5L620.0 543.8L621.6 547.1L623.1 550.4L624.6 553.7L626.2 557.0L627.7 560.3L629.2 563.6L630.7 566.9L632.3 570.3L633.8 573.6L635.3 577.0L636.8 580.4L638.3 583.8L639.8 587.2L641.3 590.5L642.8 594.0L644.2 597.4L645.7 600.8L647.2 604.2L648.7 607.7L650.2 611.1L651.6 614.6L653.1 618.0L654.6 621.5L656.0 625.0L657.5 628.5L658.9 631.9L660.4 635.4L661.8 638.9L663.3 642.5L664.7 646.0L666.2 649.5L667.6 653.0L669.0 656.5L670.5 660.1L671.9 663.6L673.3 667.2L674.7 670.7L676.1 674.3L677.5 677.9L678.9 681.4L680.3 685.0L681.6 688.6L683.0 692.1L684.4 695.7L685.7 699.3L687.1 702.9L688.4 706.5L689.8 710.1L691.1 713.7L692.4 717.3L693.7 720.9L695.0 724.5L696.3 728.2L697.6 731.8L698.9 735.4L700.1 739.0L701.4 742.6L702.7 746.3L703.9 749.9L705.2 753.5L706.5 757.1L707.7 760.8L709.0 764.4L710.2 768.0L711.5 771.7L712.8 775.3L714.0 779.0L715.3 782.6L716.5 786.2L717.8 789.9" stroke="#990000" fill="none" stroke-linecap="round" stroke-linejoin="round" stroke-width="7.3"/>
<path d="M313.99 766.22L344.59 790.22M313.99 790.22L344.59 766.22" stroke="#990000" stroke-width="1.9" stroke-opacity="0.92" fill="none"/>
<path d="M369.49 600.29L400.09 624.29M369.49 624.29L400.09 600.29" stroke="#990000" stroke-width="1.9" stroke-opacity="0.92" fill="none"/>
<path d="M480.48 367.41L511.08 391.41M480.48 391.41L511.08 367.41" stroke="#990000" stroke-width="1.9" stroke-opacity="0.92" fill="none"/>
<path d="M591.47 504.23L622.07 528.23M591.47 528.23L622.07 504.23" stroke="#990000" stroke-width="1.9" stroke-opacity="0.92" fill="none"/>
<path d="M702.46 777.87L733.06 801.87M702.46 801.87L733.06 777.87" stroke="#990000" stroke-width="1.9" stroke-opacity="0.92" fill="none"/>
</g>
<g stroke="#000" stroke-width="4.1" fill="none" stroke-linecap="round" stroke-linejoin="round">
<rect x="199.80" y="35.90" width="1294.90" height="815.10"/>
<path d="M199.80 734.56H218.30M199.80 618.11H218.30M199.80 501.67H218.30M199.80 385.23H218.30M199.80 268.79H218.30M199.80 152.34H218.30M384.79 851.00V836.20M569.77 851.00V836.20M754.76 851.00V836.20M939.74 851.00V836.20M1124.73 851.00V836.20M1309.71 851.00V836.20"/>
</g>
<text class="tk" x="184.4" y="865.2" text-anchor="end">320</text>
<text class="tk" x="184.4" y="748.8" text-anchor="end">360</text>
<text class="tk" x="184.4" y="632.3" text-anchor="end">400</text>
<text class="tk" x="184.4" y="515.9" text-anchor="end">440</text>
<text class="tk" x="184.4" y="399.4" text-anchor="end">480</text>
<text class="tk" x="184.4" y="283.0" text-anchor="end">520</text>
<text class="tk" x="184.4" y="166.5" text-anchor="end">560</text>
<text class="tk" x="184.4" y="50.1" text-anchor="end">600</text>
<text class="tk" x="215.1" y="901.5" text-anchor="middle">125</text>
<text class="tk" x="400.1" y="901.5" text-anchor="middle">130</text>
<text class="tk" x="585.1" y="901.5" text-anchor="middle">135</text>
<text class="tk" x="770.1" y="901.5" text-anchor="middle">140</text>
<text class="tk" x="955.0" y="901.5" text-anchor="middle">145</text>
<text class="tk" x="1140.0" y="901.5" text-anchor="middle">150</text>
<text class="tk" x="1325.0" y="901.5" text-anchor="middle">155</text>
<text class="tk" x="1510.0" y="901.5" text-anchor="middle">160</text>
<text class="ti" x="725" y="979.2" textLength="318" lengthAdjust="spacingAndGlyphs">Frequency(Hz)</text>
<text class="ti" transform="translate(60.1 556) rotate(-90)" textLength="268" lengthAdjust="spacingAndGlyphs">Voltage(mV)</text>
<path d="M262.50 81.60H359.60" stroke="#ff0000" stroke-width="7.3" stroke-linecap="round" fill="none"/>
<rect x="297.70" y="71.40" width="26.00" height="20.40" fill="#ff0000"/>
<text class="lg" x="396.9" y="95.4" textLength="200.1" lengthAdjust="spacingAndGlyphs">No-groove</text>
<path d="M660.90 83.40H758.00" stroke="#808000" stroke-width="7.3" stroke-linecap="round" fill="none"/>
<path d="M694.20 71.40L724.80 95.40M694.20 95.40L724.80 71.40" stroke="#808000" stroke-width="1.9" stroke-opacity="0.92" fill="none"/><path d="M694.20 83.40H724.80" stroke="#808000" stroke-width="1.3" stroke-opacity="0.62" fill="none"/><path d="M709.50 71.10V96.20" stroke="#808000" stroke-width="1.7" stroke-opacity="0.9" fill="none"/>
<text class="lg" x="795.2" y="97.4" textLength="198.2" lengthAdjust="spacingAndGlyphs">10mm-Up</text>
<path d="M1058.40 83.40H1155.50" stroke="#808000" stroke-width="7.3" stroke-linecap="round" fill="none"/>
<path d="M1091.60 71.40L1122.20 95.40M1091.60 95.40L1122.20 71.40" stroke="#808080" stroke-width="1.9" stroke-opacity="0.92" fill="none"/>
<text class="lg" x="1197.2" y="97.4" textLength="198.2" lengthAdjust="spacingAndGlyphs">20mm-Up</text>
<path d="M260.60 151.80H357.30" stroke="#0000ff" stroke-width="7.3" stroke-linecap="round" fill="none"/>
<path d="M293.70 139.80L324.30 163.80M293.70 163.80L324.30 139.80" stroke="#0000ff" stroke-width="1.9" stroke-opacity="0.92" fill="none"/><path d="M293.70 151.80H324.30" stroke="#0000ff" stroke-width="1.3" stroke-opacity="0.62" fill="none"/><path d="M309.00 139.50V164.60" stroke="#0000ff" stroke-width="1.7" stroke-opacity="0.9" fill="none"/>
<text class="lg" x="392.6" y="167.1" textLength="256.2" lengthAdjust="spacingAndGlyphs">10mm-Down</text>
<path d="M728.60 154.80H825.70" stroke="#0000ff" stroke-width="7.3" stroke-linecap="round" fill="none"/>
<path d="M762.10 142.80L792.70 166.80M762.10 166.80L792.70 142.80" stroke="#0000ff" stroke-width="1.9" stroke-opacity="0.92" fill="none"/>
<text class="lg" x="868.8" y="169.0" textLength="254.4" lengthAdjust="spacingAndGlyphs">20mm-Down</text>
<path d="M261.40 220.80H358.30" stroke="#990000" stroke-width="7.3" stroke-linecap="round" fill="none"/>
<path d="M294.60 208.80L325.20 232.80M294.60 232.80L325.20 208.80" stroke="#990000" stroke-width="1.9" stroke-opacity="0.92" fill="none"/><path d="M294.60 220.80H325.20" stroke="#990000" stroke-width="1.3" stroke-opacity="0.62" fill="none"/><path d="M309.90 208.50V233.60" stroke="#990000" stroke-width="1.7" stroke-opacity="0.9" fill="none"/>
<text class="lg" x="392.6" y="235.2" textLength="396.0" lengthAdjust="spacingAndGlyphs">10mm-Up and down</text>
<path d="M875.20 220.80H972.20" stroke="#990000" stroke-width="7.3" stroke-linecap="round" fill="none"/>
<path d="M908.50 208.80L939.10 232.80M908.50 232.80L939.10 208.80" stroke="#990000" stroke-width="1.9" stroke-opacity="0.92" fill="none"/>
<text class="lg" x="1024.0" y="234.6" textLength="396.2" lengthAdjust="spacingAndGlyphs">20mm-Up and down</text>
</svg></body></html>
